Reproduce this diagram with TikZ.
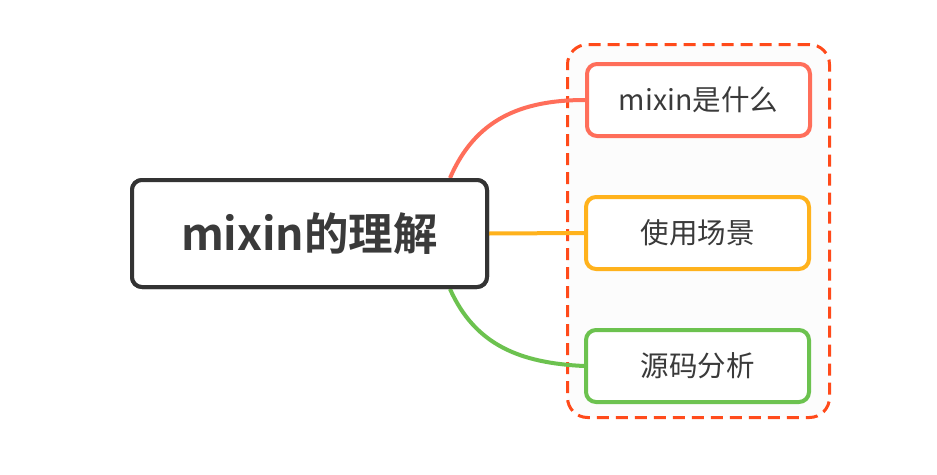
\documentclass[tikz,border=0pt]{standalone}
\usepackage{fontspec}
\setmainfont{Noto Sans CJK SC}
\newfontfamily\cjkbold{Noto Sans CJK SC Bold}
\begin{document}
\begin{tikzpicture}[x=1pt,y=-1pt,
  rootbox/.style={draw=rootc,line width=4pt,rounded corners=10pt,fill=white,minimum width=355pt,minimum height=107pt,inner sep=0pt,text=txt},
  childbox/.style={line width=4pt,rounded corners=10pt,fill=white,minimum width=223pt,minimum height=72pt,inner sep=0pt,text=txt,font=\fontsize{28.5}{32}\selectfont},
  link/.style={line width=4pt}]
\definecolor{rootc}{HTML}{333333}
\definecolor{txt}{HTML}{3A3A3A}
\definecolor{redc}{HTML}{FF6E5A}
\definecolor{orc}{HTML}{FFB21C}
\definecolor{grc}{HTML}{6CC24F}
\definecolor{dashc}{HTML}{FF4A1A}
\definecolor{panel}{HTML}{FCFCFC}
\useasboundingbox (0,0) rectangle (937,474);
\fill[white] (0,0) rectangle (937,474);
\node[draw=dashc,line width=3pt,dash pattern=on 12pt off 7pt,rounded corners=20pt,fill=panel,minimum width=262pt,minimum height=373pt] (panel) at (698.5,231) {};
\node[rootbox,font=\cjkbold\fontsize{44.5}{50}\selectfont] (root) at (309.5,233.5) {mixin的理解};
\node[childbox,draw=redc] (c1) at (698.5,100) {mixin是什么};
\node[childbox,draw=orc] (c2) at (697.5,233) {使用场景};
\node[childbox,draw=grc] (c3) at (697.5,366) {源码分析};
\coordinate (r1) at (450,178);
\coordinate (r3) at (450,289);
\draw[link,redc] (r1) .. controls (475,120) and (520,100) .. (c1.west);
\draw[link,orc] (root.east) -- (c2.west);
\draw[link,grc] (r3) .. controls (475,345) and (520,363) .. (c3.west);
\node[rootbox,font=\cjkbold\fontsize{44.5}{50}\selectfont] at (root) {mixin的理解};
\end{tikzpicture}
\end{document}
